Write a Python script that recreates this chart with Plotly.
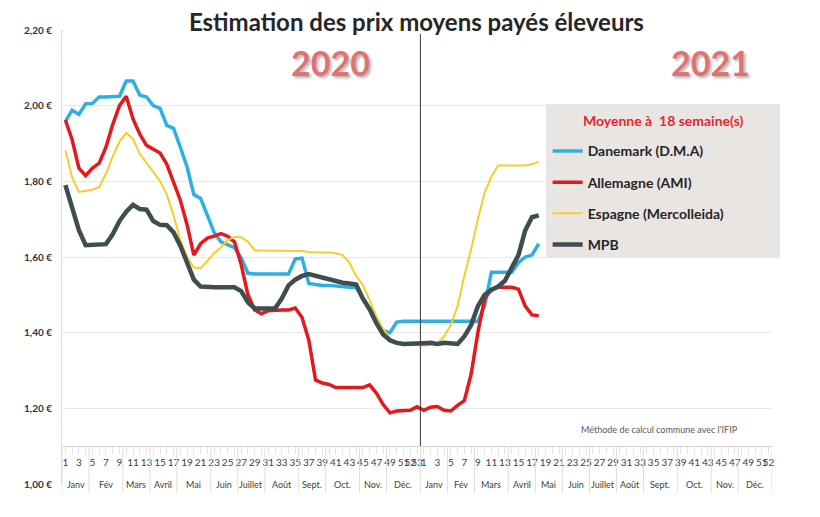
import plotly.graph_objects as go

# weeks shown on the category axis (2020 has 53 weeks)
weeks_2020 = list(range(1, 54))
weeks_2021 = list(range(1, 53))
months = ["Janv", "Fév", "Mars", "Avril", "Mai", "Juin", "Juillet", "Août", "Sept.", "Oct.", "Nov.", "Déc."]
weeks_per_month_2020 = [4, 5, 4, 4, 5, 4, 4, 5, 4, 5, 4, 5]
weeks_per_month_2021 = [4, 4, 5, 4, 4, 4, 4, 4, 5, 5, 4, 5]

# prices (EUR/kg), weeks 1-53 of 2020 then weeks 1-18 of 2021
danemark = [1.958, 1.988, 1.977, 2.005, 2.006, 2.023, 2.023, 2.023, 2.025, 2.065,
            2.065, 2.028, 2.023, 2.000, 1.993, 1.948, 1.940, 1.890, 1.838, 1.765,
            1.755, 1.710, 1.665, 1.640, 1.632, 1.625, 1.598, 1.557, 1.555, 1.555,
            1.555, 1.555, 1.555, 1.555, 1.595, 1.597, 1.530, 1.527, 1.525, 1.525,
            1.523, 1.522, 1.520, 1.520, 1.490, 1.460, 1.425, 1.405, 1.400, 1.428,
            1.430, 1.430, 1.430,
            1.430, 1.430, 1.430, 1.430, 1.430, 1.430, 1.430, 1.430, 1.430, 1.470,
            1.560, 1.560, 1.560, 1.560, 1.585, 1.600, 1.605, 1.635]
allemagne = [1.962, 1.910, 1.835, 1.815, 1.835, 1.848, 1.890, 1.950, 2.000, 2.025,
             1.965, 1.925, 1.895, 1.885, 1.875, 1.845, 1.800, 1.750, 1.685, 1.605,
             1.635, 1.650, 1.655, 1.662, 1.655, 1.640, 1.580, 1.500, 1.460, 1.450,
             1.458, 1.460, 1.460, 1.460, 1.465, 1.440, 1.380, 1.275, 1.267, 1.263,
             1.255, 1.255, 1.255, 1.255, 1.255, 1.262, 1.240, 1.210, 1.188, 1.193,
             1.193, 1.195, 1.204,
             1.195, 1.203, 1.205, 1.195, 1.193, 1.208, 1.220, 1.290, 1.400, 1.490,
             1.515, 1.520, 1.520, 1.520, 1.515, 1.470, 1.447, 1.445]
espagne = [1.882, 1.810, 1.772, 1.775, 1.778, 1.785, 1.820, 1.865, 1.905, 1.928,
           1.912, 1.872, 1.850, 1.825, 1.800, 1.765, 1.710, 1.645, 1.600, 1.572,
           1.570, 1.590, 1.610, 1.625, 1.645, 1.653, 1.652, 1.640, 1.618, 1.617,
           1.617, 1.617, 1.617, 1.617, 1.617, 1.616, 1.613, 1.612, 1.612, 1.612,
           1.610, 1.605, 1.585, 1.550, 1.526, 1.486, 1.442, 1.410, 1.385, 1.375,
           1.372, 1.370, 1.368,
           1.366, 1.368, 1.370, 1.390, 1.420, 1.470, 1.550, 1.620, 1.700, 1.770,
           1.812, 1.842, 1.842, 1.842, 1.842, 1.842, 1.845, 1.852]
mpb = [1.790, 1.732, 1.671, 1.631, 1.633, 1.634, 1.634, 1.660, 1.695, 1.720,
       1.738, 1.727, 1.725, 1.695, 1.685, 1.684, 1.665, 1.630, 1.585, 1.540,
       1.522, 1.520, 1.520, 1.520, 1.520, 1.520, 1.510, 1.480, 1.464, 1.464,
       1.464, 1.464, 1.490, 1.525, 1.540, 1.550, 1.555, 1.550, 1.548, 1.540,
       1.535, 1.532, 1.530, 1.527, 1.490, 1.462, 1.425, 1.395, 1.380, 1.373,
       1.370, 1.370, 1.370,
       1.372, 1.373, 1.370, 1.373, 1.370, 1.370, 1.390, 1.420, 1.470, 1.500,
       1.513, 1.522, 1.537, 1.570, 1.605, 1.670, 1.705, 1.710]

series = [("Danemark (D.M.A)", danemark, "#2cb0e3", 3.5),
          ("Allemagne (AMI)", allemagne, "#e3191c", 3.5),
          ("Espagne (Mercolleida)", espagne, "#f6cd2a", 2),
          ("MPB", mpb, "#3e4d4d", 4.5)]

all_weeks = weeks_2020 + weeks_2021
tickvals = list(range(len(all_weeks)))
ticktext = [str(w) if (w % 2 == 1 or w == weeks_2021[-1]) else "" for w in all_weeks]

Y_MIN, Y_MAX, AXIS_Y = 1.0, 2.2, 1.1
axis_pos = (AXIS_Y - Y_MIN) / (Y_MAX - Y_MIN)
FONT = "Lato"

fig = go.Figure()
for name, vals, col, w in series:
    fig.add_trace(go.Scatter(x=list(range(len(vals))), y=vals, mode="lines", name=name,
                             legendgroup=name, line=dict(color=col, width=w)))

# month labels + separators under the week numbers
shapes = []
annotations = []
start = 0
for counts in (weeks_per_month_2020, weeks_per_month_2021):
    for m, n in zip(months, counts):
        annotations.append(dict(x=start + (n - 1) / 2, y=Y_MIN, xref="x", yref="y", text=m,
                                showarrow=False, font=dict(size=9, color="#404040", family=FONT)))
        shapes.append(dict(type="line", xref="x", yref="paper", x0=start - 0.5, x1=start - 0.5,
                           y0=-0.02, y1=axis_pos, line=dict(color="#dedede", width=1)))
        start += n
shapes.append(dict(type="line", xref="x", yref="paper", x0=start - 0.5, x1=start - 0.5,
                   y0=-0.02, y1=axis_pos, line=dict(color="#dedede", width=1)))
# year separator
shapes.append(dict(type="line", xref="x", yref="y", x0=len(weeks_2020) - 0.5, x1=len(weeks_2020) - 0.5,
                   y0=AXIS_Y, y1=Y_MAX - 0.01, line=dict(color="#3a3a3a", width=1)))
# legend box
shapes.append(dict(type="rect", xref="paper", yref="paper", x0=0.6817, x1=1.0113, y0=0.498, y1=0.837,
                   fillcolor="#e9e5e3", line=dict(width=0), layer="above"))

year_font = dict(size=34, color="#df7373", family=FONT, weight="bold", shadow="2px 2px 3px rgba(0,0,0,0.3)")
annotations += [
    dict(x=0.3775, y=0.9295, xref="paper", yref="paper", text="2020", showarrow=False,
         xanchor="center", yanchor="middle", font=year_font),
    dict(x=0.9127, y=0.9295, xref="paper", yref="paper", text="2021", showarrow=False,
         xanchor="center", yanchor="middle", font=year_font),
    dict(x=0.8465, y=0.7996, xref="paper", yref="paper", text="Moyenne à  18 semaine(s)", showarrow=False,
         xanchor="center", yanchor="middle",
         font=dict(size=14, color="#e8262a", family=FONT, weight="bold")),
    dict(x=0.842, y=0.121, xref="paper", yref="paper", text="Méthode de calcul commune avec l'IFIP",
         showarrow=False, xanchor="center", yanchor="middle",
         font=dict(size=9, color="#595959", family=FONT)),
]

# the page body adds an 8px offset, so the figure is 8px smaller than the window
fig.update_layout(
    width=812, height=509,
    margin=dict(l=54, r=48, t=22, b=33),
    paper_bgcolor="white", plot_bgcolor="white",
    separators=", ",
    font=dict(family=FONT, color="#333333"),
    title=dict(text="Estimation des prix moyens payés éleveurs", x=0.503, y=0.988,
               xanchor="center", yanchor="top", pad=dict(t=0),
               font=dict(size=24, color="#262626", family=FONT, weight="bold")),
    xaxis=dict(range=[-0.5, len(all_weeks) - 0.5], tickmode="array", tickvals=tickvals, ticktext=ticktext,
               anchor="free", position=axis_pos, showline=True, linecolor="#d6d6d6", showgrid=False,
               zeroline=False, ticks="outside", ticklen=7, tickcolor="#e3e3e3",
               tickangle=0, tickfont=dict(size=10, color="#404040", family=FONT)),
    yaxis=dict(range=[Y_MIN, Y_MAX], tickmode="linear", tick0=Y_MIN, dtick=0.2, tickformat=".2f",
               ticksuffix=" €", showticksuffix="all", showgrid=True, gridcolor="#e8e8e8", zeroline=False,
               showline=True, linecolor="#dcdcdc", ticks="outside", ticklen=7, tickcolor="rgba(0,0,0,0)",
               tickfont=dict(size=10, color="#333333", family=FONT, weight="bold")),
    legend=dict(x=0.684, y=0.768, xanchor="left", yanchor="top", bgcolor="rgba(0,0,0,0)", borderwidth=0,
                font=dict(size=14, color="#262626", family=FONT, weight="bold"), tracegroupgap=10,
                itemwidth=30),
    shapes=shapes, annotations=annotations,
)
fig.write_html("out.html")
